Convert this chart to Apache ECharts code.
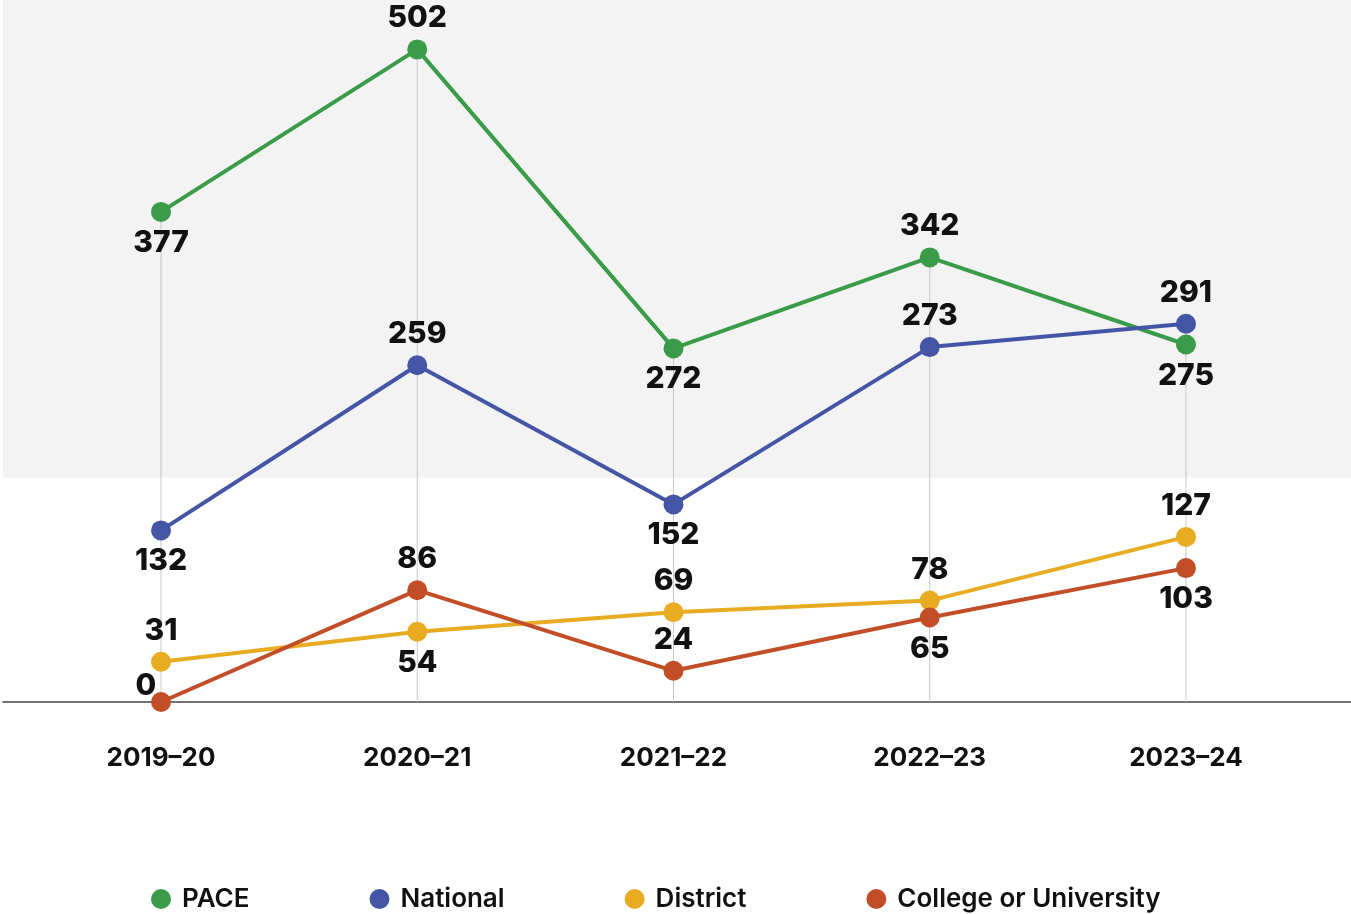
<!DOCTYPE html>
<html>
<head>
<meta charset="utf-8">
<script src="https://cdn.jsdelivr.net/npm/echarts@6/dist/echarts.min.js"></script>
<style>html,body{margin:0;padding:0;background:#fff}#c{width:1351px;height:914px}</style>
</head>
<body>
<div id="c"></div>
<script>
const categories = ['2019–20', '2020–21', '2021–22', '2022–23', '2023–24'];
const seriesNames = ['PACE', 'National', 'District', 'College or University'];
const pace = [377, 502, 272, 342, 275];
const national = [132, 259, 152, 273, 291];
const district = [31, 54, 69, 78, 127];
const college = [0, 86, 24, 65, 103];
const shadedFrom = 172.5;
const yMax = 540;

// label placement (style, kept apart from the values)
const labelPos = [
  ['bottom', 'top', 'bottom', 'top', 'bottom'],
  ['bottom', 'top', 'bottom', 'top', 'top'],
  ['top', 'bottom', 'top', 'top', 'top'],
  ['zero', 'top', 'top', 'bottom', 'bottom']
];
const colors = ['#3a9b48', '#4455a6', '#e9ab22', '#c24e28'];
const FONT = 'Inter';

const values = [pace, national, district, college];
const maxPer = categories.map((c, i) => Math.max(...values.map(v => v[i])));

function lineSeries(k) {
  return {
    name: seriesNames[k],
    type: 'line',
    z: 3 + k,
    symbol: 'circle',
    symbolSize: 20,
    lineStyle: { width: 4, color: colors[k] },
    itemStyle: { color: colors[k] },
    data: values[k].map((v, i) => {
      const p = labelPos[k][i];
      const lab = p === 'zero'
        ? { position: 'top', offset: [-15, 15] }
        : { position: p };
      return { value: [i, v], label: lab };
    }),
    label: {
      show: true,
      distance: 6,
      color: '#111',
      fontFamily: FONT,
      fontWeight: 800,
      fontSize: 30,
      formatter: p => p.value[1]
    },
    emphasis: { disabled: true },
    animation: false
  };
}

const chart = echarts.init(document.getElementById('c'), null, { renderer: 'canvas' });
chart.setOption({
  animation: false,
  grid: { left: 3, right: 0, top: 0, bottom: 212 },
  xAxis: {
    type: 'value',
    min: -0.6166,
    max: 4.644,
    splitLine: { show: false },
    axisTick: { show: false },
    axisLine: { show: true, onZero: true, lineStyle: { color: '#444', width: 1.5 } },
    axisLabel: {
      customValues: [0, 1, 2, 3, 4],
      formatter: v => categories[Math.round(v)],
      margin: 43,
      color: '#111',
      fontFamily: FONT,
      fontWeight: 700,
      fontSize: 26
    }
  },
  yAxis: {
    type: 'value',
    min: 0,
    max: yMax,
    show: false,
    splitLine: { show: false }
  },
  legend: {
    top: 886,
    left: 151,
    padding: 0,
    itemWidth: 20,
    itemHeight: 20,
    itemGap: 120,
    icon: 'circle',
    data: seriesNames,
    textStyle: { color: '#111', fontFamily: FONT, fontWeight: 600, fontSize: 26, padding: [0, 0, 0, 6] }
  },
  series: [
    {
      name: 'drop',
      type: 'bar',
      z: 1,
      barWidth: 1,
      itemStyle: { color: '#c8c8c8' },
      data: maxPer.map((v, i) => [i, v]),
      silent: true,
      markArea: {
        silent: true,
        itemStyle: { color: '#f3f3f3' },
        data: [[{ yAxis: shadedFrom }, { yAxis: yMax }]]
      }
    },
    lineSeries(0), lineSeries(1), lineSeries(2), lineSeries(3)
  ]
});
</script>
</body>
</html>
